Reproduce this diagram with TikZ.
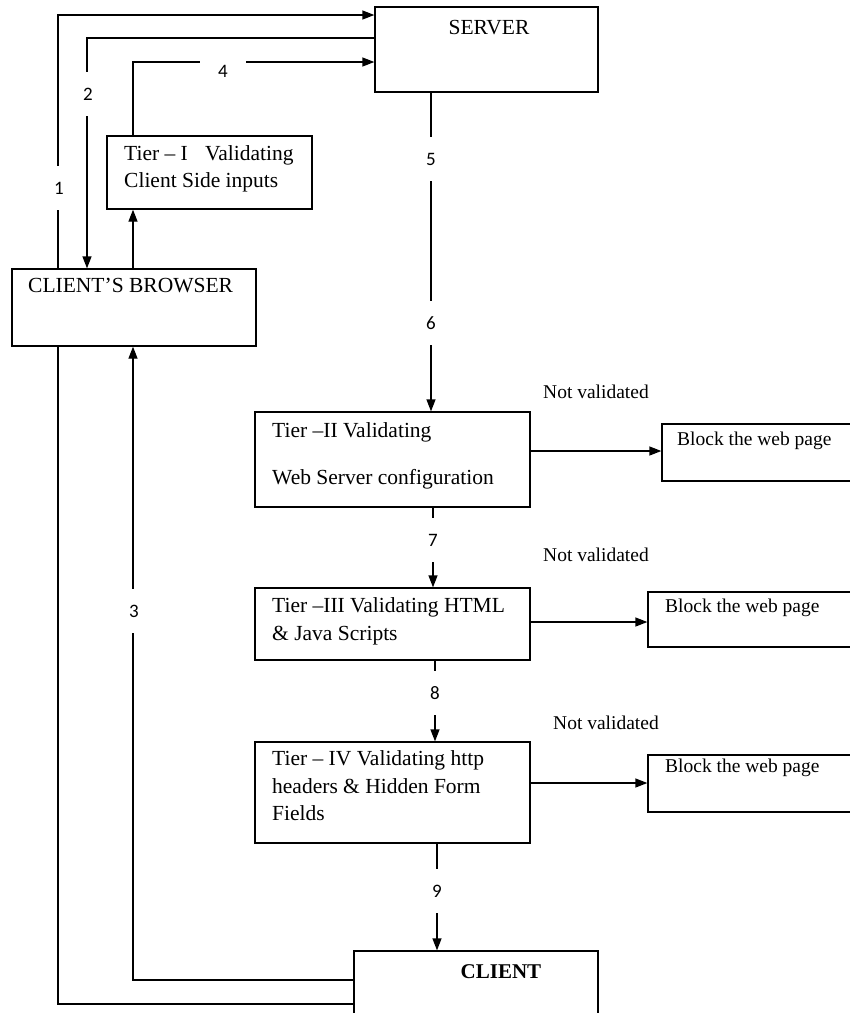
\documentclass[tikz,border=0pt]{standalone}
\usepackage{fontspec}
\setmainfont{Liberation Serif}
\newfontfamily\numfont{Carlito}
\usetikzlibrary{arrows.meta}
\tikzset{
  box/.style={draw, line width=1.3pt, inner sep=0pt},
  txt/.style={anchor=mid west, inner sep=0pt, font=\fontsize{21.5}{25}\selectfont},
  btxt/.style={anchor=mid west, inner sep=0pt, font=\fontsize{19.5}{23}\selectfont},
  ctxt/.style={inner sep=0pt, font=\fontsize{21.5}{25}\selectfont},
  nv/.style={inner sep=0pt, font=\fontsize{19.5}{23}\selectfont},
  conn/.style={line width=1.3pt},
  arr/.style={line width=1.3pt, -{Triangle[length=12pt,width=9pt]}},
  num/.style={fill=white, inner sep=0pt, minimum width=14pt, minimum height=44pt, font=\numfont\fontsize{19}{22}\selectfont},
  hnum/.style={fill=white, inner sep=0pt, minimum width=46pt, minimum height=20pt, font=\numfont\fontsize{19}{22}\selectfont}
}
\begin{document}
\begin{tikzpicture}[x=1pt,y=-1pt]
\useasboundingbox (0,0) rectangle (850,1013);
\fill[white] (0,0) rectangle (850,1013);
% column coordinates
\coordinate (xa) at (58,0);
\coordinate (xb) at (87,0);
\coordinate (xc) at (133,0);
\coordinate (xd) at (431,0);
\coordinate (xe) at (433,0);
\coordinate (xf) at (435,0);
\coordinate (xg) at (437,0);
\coordinate (ya) at (0,15);
\coordinate (yb) at (0,38);
\coordinate (yc) at (0,62);
\coordinate (yd) at (0,451);
\coordinate (ye) at (0,622);
\coordinate (yf) at (0,783);
\coordinate (yg) at (0,980);
\coordinate (yh) at (0,1004);
% boxes
\node[box, minimum width=223pt, minimum height=85pt] (server) at (486.5,49.5) {};
\node[ctxt] at (489,28) {SERVER};
\node[box, minimum width=205pt, minimum height=73pt] (tier1) at (209.5,172.5) {};
\node[txt] at (124,158) {Tier -- I\hspace{0.8em}Validating};
\node[txt] at (124,185) {Client Side inputs};
\node[box, minimum width=244pt, minimum height=77pt] (browser) at (134,307.5) {};
\node[txt] at (28,290) {CLIENT'S BROWSER};
\node[box, minimum width=275pt, minimum height=95pt] (tier2) at (392.5,459.5) {};
\node[txt] at (272,435) {Tier --II Validating};
\node[txt] at (272,482) {Web Server configuration};
\node[box, minimum width=275pt, minimum height=72pt] (tier3) at (392.5,624) {};
\node[txt] at (272,610) {Tier --III Validating HTML};
\node[txt] at (272,638) {\& Java Scripts};
\node[box, minimum width=275pt, minimum height=101pt] (tier4) at (392.5,792.5) {};
\node[txt] at (272,763) {Tier -- IV Validating http};
\node[txt] at (272,791) {headers \& Hidden Form};
\node[txt] at (272,818) {Fields};
\node[box, minimum width=208pt, minimum height=57pt] (block1) at (766,452.5) {};
\node[btxt] at (677,443) {Block the web page};
\node[box, minimum width=222pt, minimum height=55pt] (block2) at (759,619.5) {};
\node[btxt] at (665,610) {Block the web page};
\node[box, minimum width=222pt, minimum height=57pt] (block3) at (759,783.5) {};
\node[btxt] at (665,770) {Block the web page};
\node[box, minimum width=244pt, minimum height=79pt] (client) at (476,990.5) {};
\node[ctxt, font=\fontsize{21}{25}\selectfont\bfseries] at (501,972) {CLIENT};
% not validated
\node[nv] (nv1) at (596,392) {Not validated};
\node[nv] (nv2) at (596,555) {Not validated};
\node[nv] (nv3) at (606,723) {Not validated};
% connectors
\draw[arr] (browser.north -| xa) |- (server.west |- ya);
\draw[arr] (server.west |- yb) -| (browser.north -| xb);
\draw[arr] (tier1.north -| xc) |- (server.west |- yc);
\draw[arr] (browser.north -| xc) -- (tier1.south -| xc);
\draw[arr] (server.south -| xd) -- (tier2.north -| xd);
\draw[arr] (tier2.east |- yd) -- (block1.west |- yd);
\draw[arr] (tier2.south -| xe) -- (tier3.north -| xe);
\draw[arr] (tier3.east |- ye) -- (block2.west |- ye);
\draw[arr] (tier3.south -| xf) -- (tier4.north -| xf);
\draw[arr] (tier4.east |- yf) -- (block3.west |- yf);
\draw[arr] (tier4.south -| xg) -- (client.north -| xg);
\draw[arr] (client.west |- yg) -| (browser.south -| xc);
\draw[conn] (browser.south -| xa) |- (client.west |- yh);
% labels
\node[num] (l1) at (59,188) {1};
\node[num] (l2) at (88,94) {2};
\node[hnum] (l4) at (223,71) {4};
\node[num] (l5) at (431,159) {5};
\node[num] (l6) at (431,323) {6};
\node[num] (l7) at (433,540) {7};
\node[num] (l8) at (435,693) {8};
\node[num] (l9) at (437,891) {9};
\node[num] (l3) at (134,611) {3};
\end{tikzpicture}
\end{document}
